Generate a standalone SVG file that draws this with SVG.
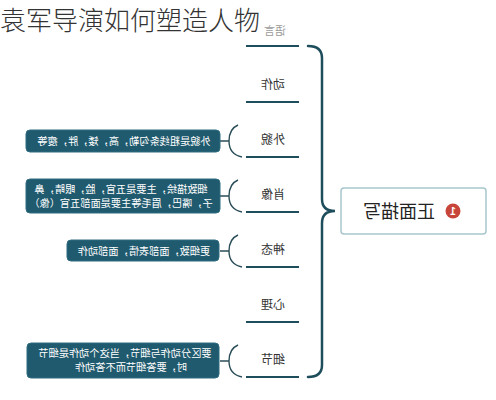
<svg xmlns="http://www.w3.org/2000/svg" width="496" height="400" viewBox="0 0 496 400">
<style>
.ln{stroke:#1e4d5c;stroke-width:2;fill:none}
.br{stroke:#1e4d5c;stroke-width:2.5;fill:none;stroke-linecap:round}
.sb{stroke:#2a4d58;stroke-width:1.4;fill:none}
.lbl{font-family:"Noto Sans CJK SC","Noto Sans",sans-serif;font-size:12px;fill:#333;text-anchor:middle}
.bx{fill:#1f5a6e;stroke:#2f6c80;stroke-width:1}
.bt{font-family:"Noto Sans CJK SC","Noto Sans",sans-serif;font-size:10.2px;fill:#fff;text-anchor:middle}
</style>
<rect width="496" height="400" fill="#fff"/>
<text x="0" y="30" font-family="'Noto Sans CJK SC',sans-serif" font-size="26" fill="#333" font-weight="300">袁军导演如何塑造人物</text>
<g id="connectors">
<path class="br" d="M308,46 Q322,46 322,58 L322,199 Q322,211 335,211 Q322,211 322,223 L322,365 Q322,377 308,377"/>
<path class="sb" d="M220,141 H229 M238,125 C231,128 229,135 229,141 C229,149 232,155 242,157"/>
<path class="sb" d="M220,196 H229 M238,180 C231,183 229,190 229,196 C229,204 232,210 242,212"/>
<path class="sb" d="M220,251 H229 M238,235 C231,238 229,245 229,251 C229,259 232,265 242,267"/>
<path class="sb" d="M220,361 H229 M238,345 C231,348 229,355 229,361 C229,369 232,375 242,377"/>
</g>
<g id="n-yuyan"><line class="ln" x1="246" y1="46" x2="299" y2="46"/><text transform="translate(275,35) scale(-1,1)" class="lbl" style="fill:#9a9a9a;font-size:11px">语言</text></g>
<g id="n-dongzuo"><line class="ln" x1="246" y1="102" x2="299" y2="102"/><text transform="translate(273,89) scale(-1,1)" class="lbl">动作</text></g>
<g id="n-waimao"><line class="ln" x1="246" y1="157" x2="299" y2="157"/><text transform="translate(273,144) scale(-1,1)" class="lbl">外貌</text></g>
<g id="n-xiaoxiang"><line class="ln" x1="246" y1="212" x2="299" y2="212"/><text transform="translate(273,199) scale(-1,1)" class="lbl">肖像</text></g>
<g id="n-shentai"><line class="ln" x1="246" y1="267" x2="299" y2="267"/><text transform="translate(273,254) scale(-1,1)" class="lbl">神态</text></g>
<g id="n-xinli"><line class="ln" x1="246" y1="322" x2="299" y2="322"/><text transform="translate(273,309) scale(-1,1)" class="lbl">心理</text></g>
<g id="n-xijie"><line class="ln" x1="246" y1="377" x2="299" y2="377"/><text transform="translate(273,364) scale(-1,1)" class="lbl">细节</text></g>
<g id="n-box1"><rect class="bx" x="26" y="130" width="194" height="22" rx="4"/><text transform="translate(124,145) scale(-1,1)" class="bt">外貌是粗线条勾勒，高，矮，胖，瘦等</text></g>
<g id="n-box2"><rect class="bx" x="26" y="179" width="194" height="34" rx="4"/><text transform="translate(121,192.5) scale(-1,1)" class="bt">细致描绘，主要是五官，脸，眼睛，鼻</text><text transform="translate(121,206.5) scale(-1,1)" class="bt">子，嘴巴，眉毛等主要是面部五官（像）</text></g>
<g id="n-box3"><rect class="bx" x="67" y="240" width="152" height="21" rx="4"/><text transform="translate(144,254.5) scale(-1,1)" class="bt">更细致，面部表情，面部动作</text></g>
<g id="n-box4"><rect class="bx" x="27" y="343" width="192" height="35" rx="4"/><text transform="translate(125,356.5) scale(-1,1)" class="bt">要区分动作与细节，当这个动作是细节</text><text transform="translate(131,370.5) scale(-1,1)" class="bt">时，要答细节而不答动作</text></g>
<g id="n-main"><rect x="341" y="188" width="145" height="46" rx="3" fill="#fff" stroke="#a8c6cc" stroke-width="1.5"/><text transform="translate(399,218) scale(-1,1)" font-family="'Noto Sans CJK SC',sans-serif" font-size="18" fill="#222" text-anchor="middle">正面描写</text><circle cx="453" cy="211" r="7.5" fill="#c8453a"/><text transform="translate(453,214.5) scale(-1,1)" font-family="'Liberation Sans',sans-serif" font-size="10" font-weight="bold" fill="#fff" text-anchor="middle">1</text></g>
</svg>
